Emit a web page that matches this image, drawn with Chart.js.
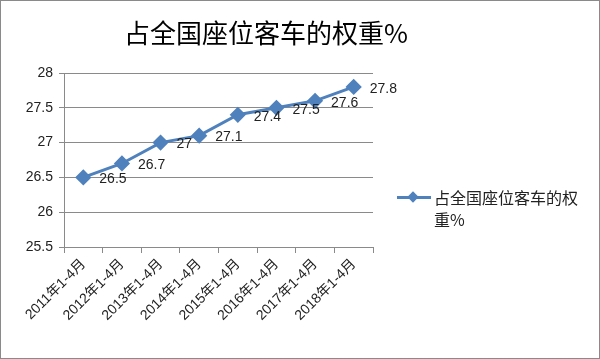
<!DOCTYPE html>
<html lang="zh">
<head>
    <meta charset="UTF-8">
    <title>占全国座位客车的权重%</title>
    <script src="https://cdn.jsdelivr.net/npm/chart.js"></script>
    <style>
        body { margin: 0; background: #fff; }
        #wrap {
            position: relative; width: 600px; height: 359px;
            box-sizing: border-box; border: 1px solid #8a8a8a;
            font-family: 'Liberation Sans', 'Noto Sans CJK SC', sans-serif;
        }
        #chart { position: absolute; left: 0; top: 0; }
        #title {
            position: absolute; left: 123px; top: 12px;
            font-family: 'Noto Sans CJK SC', sans-serif;
            font-size: 26px; color: #000; white-space: nowrap;
        }
        #legend {
            position: absolute; left: 396px; top: 185px;
            display: flex; align-items: flex-start;
        }
        #legend .mark { position: relative; width: 34px; height: 22px; margin-right: 3px; }
        #legend .mark .ln { position: absolute; left: 0; right: 0; top: 10px; height: 3px; background: #4F81BD; }
        #legend .mark .dm {
            position: absolute; left: 12px; top: 7px; width: 8px; height: 8px;
            background: #4F81BD; transform: rotate(45deg);
        }
        #legend .txt {
            width: 150px; font-size: 16px; line-height: 22px; color: #222;
            font-family: 'Noto Sans CJK SC', sans-serif;
        }
    </style>
</head>
<body>

<div id="wrap">
    <canvas id="chart" width="598" height="357"></canvas>
    <div id="title">占全国座位客车的权重%</div>
    <div id="legend">
        <div class="mark"><div class="ln"></div><div class="dm"></div></div>
        <div class="txt">占全国座位客车的权重%</div>
    </div>
</div>

<script>
    const seriesName = '占全国座位客车的权重%';
    const categories = ['2011年1-4月', '2012年1-4月', '2013年1-4月', '2014年1-4月',
                        '2015年1-4月', '2016年1-4月', '2017年1-4月', '2018年1-4月'];
    const values = [26.5, 26.7, 27, 27.1, 27.4, 27.5, 27.6, 27.8];
    const yMin = 25.5, yMax = 28, yStep = 0.5;

    // value labels to the right of each marker
    const pointLabels = {
        id: 'pointLabels',
        afterDatasetsDraw(chart) {
            const ctx = chart.ctx;
            const meta = chart.getDatasetMeta(0);
            ctx.save();
            ctx.font = "14px 'Liberation Sans', sans-serif";
            ctx.fillStyle = '#222';
            ctx.textAlign = 'left';
            ctx.textBaseline = 'middle';
            meta.data.forEach((pt, i) => {
                ctx.fillText(String(values[i]), pt.x + 16, pt.y + 2);
            });
            ctx.restore();
        }
    };

    const ctx = document.getElementById('chart').getContext('2d');
    new Chart(ctx, {
        type: 'line',
        data: {
            labels: categories,
            datasets: [{
                label: seriesName,
                data: values,
                borderColor: '#4F81BD',
                backgroundColor: '#4F81BD',
                borderWidth: 3,
                pointStyle: 'rectRot',
                pointRadius: 6,
                pointHoverRadius: 6,
                tension: 0
            }]
        },
        options: {
            responsive: false,
            animation: false,
            layout: { padding: { top: 72, right: 226, bottom: 0, left: 8 } },
            plugins: {
                legend: { display: false },
                tooltip: { enabled: false }
            },
            scales: {
                x: {
                    offset: true,
                    grid: { display: true, offset: true, drawOnChartArea: false, color: '#8a8a8a', tickLength: 6 },
                    border: { color: '#8a8a8a' },
                    ticks: {
                        color: '#222', minRotation: 45, maxRotation: 45, autoSkip: false,
                        font: { size: 14, family: "'Liberation Sans', 'Noto Sans CJK SC', sans-serif" }
                    },
                    afterFit: (s) => { s.height = 111; }
                },
                y: {
                    min: yMin, max: yMax,
                    grid: { color: '#8a8a8a', tickLength: 5 },
                    border: { color: '#8a8a8a' },
                    ticks: {
                        stepSize: yStep, color: '#222', padding: 6,
                        font: { size: 14, family: "'Liberation Sans', sans-serif" },
                        callback: (v) => String(v)
                    },
                    afterFit: (s) => { s.width = 55; }
                }
            }
        },
        plugins: [pointLabels]
    });
</script>

</body>
</html>
